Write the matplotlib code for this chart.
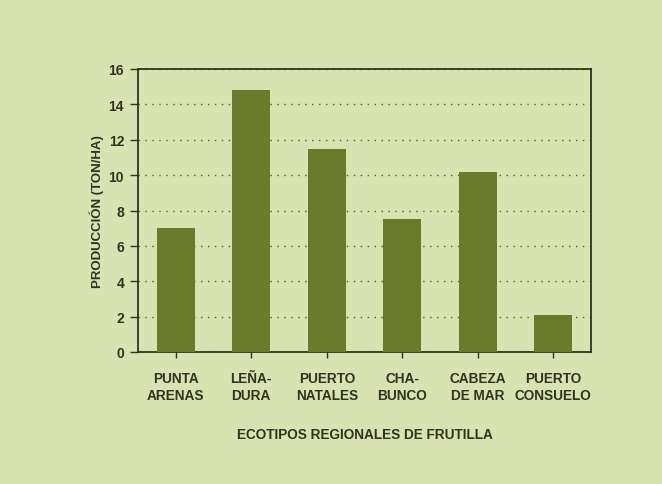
import matplotlib
matplotlib.use("Agg")
import matplotlib.pyplot as plt

categories = ["PUNTA\nARENAS", "LEÑA-\nDURA", "PUERTO\nNATALES", "CHA-\nBUNCO", "CABEZA\nDE MAR", "PUERTO\nCONSUELO"]
values = [7.0, 14.8, 11.5, 7.5, 10.2, 2.1]
yticks = [0, 2, 4, 6, 8, 10, 12, 14, 16]

bg = "#d9e3b2"
bar_color = "#6c7a2b"
ink = "#2f3320"

plt.rcParams['font.family'] = ['Liberation Sans', 'DejaVu Sans']

fig = plt.figure(figsize=(6.62, 4.85), dpi=100, facecolor=bg)
ax = fig.add_axes([138/662, 1-353/485, (591-138)/662, (353-70)/485], facecolor=bg)

x = list(range(len(categories)))
ax.bar(x, values, width=0.5, color=bar_color, zorder=3)
ax.set_xlim(-0.5, len(categories)-0.5)
ax.set_ylim(0, 16)
ax.set_yticks(yticks)
ax.set_xticks(x)
ax.set_xticklabels(categories, fontsize=9.8, fontweight='bold', color=ink, linespacing=1.2)
ax.tick_params(axis='y', labelsize=10, colors=ink, length=6, width=1, direction='out', pad=4)
for lbl in ax.get_yticklabels():
    lbl.set_fontweight('bold')
ax.tick_params(axis='x', length=4, width=1, colors=ink, pad=10)
ax.yaxis.grid(True, linestyle=(0, (1, 4)), color="#555a3a", linewidth=1.0, zorder=1)
for s in ax.spines.values():
    s.set_color(ink)
    s.set_linewidth(1.3)
ax.set_ylabel("PRODUCCIÓN (TON/HA)", fontsize=9.5, fontweight='bold', color=ink, labelpad=3)
ax.set_xlabel("ECOTIPOS REGIONALES DE FRUTILLA", fontsize=9.8, fontweight='bold', color=ink, labelpad=18)

fig.savefig("out.png", dpi=100, facecolor=bg)
